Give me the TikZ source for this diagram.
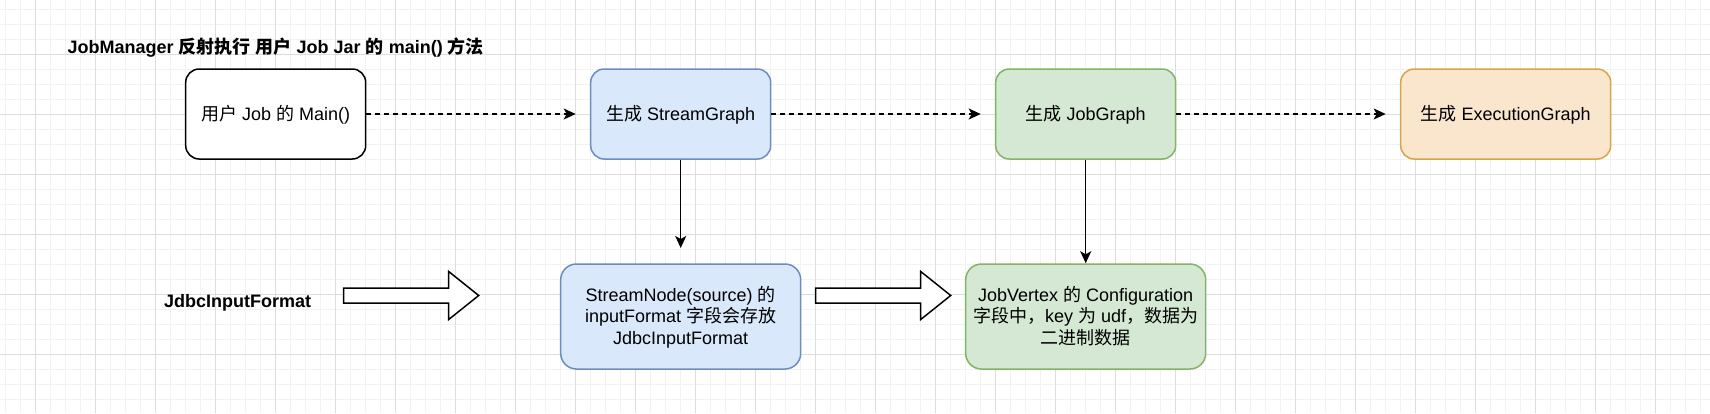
\documentclass[tikz,border=0pt]{standalone}
\usepackage{fontspec}
\setmainfont{Liberation Sans}
\newfontfamily\cjk{Noto Sans CJK SC}
\usetikzlibrary{arrows.meta}
\newcommand\C[1]{{\cjk #1}}
\newcommand\sT{\rule{0pt}{16.3pt}}
\newcommand\sB{\rule[-3.8pt]{0pt}{3.8pt}}
\definecolor{bluef}{HTML}{DAE8FC}
\definecolor{blued}{HTML}{6C8EBF}
\definecolor{greenf}{HTML}{D5E8D4}
\definecolor{greend}{HTML}{82B366}
\definecolor{orangef}{HTML}{FAE6CD}
\definecolor{oranged}{HTML}{D6A74A}
\definecolor{gridminor}{HTML}{F2F2F2}
\definecolor{gridmajor}{HTML}{DDDDDD}
\tikzset{
  boxbase/.style={draw, line width=1.5pt, inner sep=0pt, align=center,
    font=\fontsize{18pt}{21.7pt}\selectfont},
  smallbox/.style={boxbase, minimum width=180pt, minimum height=90pt, rounded corners=13.5pt},
  bigbox/.style={boxbase, minimum width=240pt, minimum height=105pt, rounded corners=15.75pt},
  plainbox/.style={fill=white, draw=black},
  bluebox/.style={fill=bluef, draw=blued},
  greenbox/.style={fill=greenf, draw=greend},
  orangebox/.style={fill=orangef, draw=oranged},
  dashconn/.style={line width=1.5pt, dash pattern=on 4.5pt off 4.5pt,
    -{Stealth[length=12pt,width=11pt,inset=3pt]}},
  solidconn/.style={line width=1.5pt, -{Stealth[length=12pt,width=11pt,inset=3pt]}},
  hollow/.style={draw=black, fill=white, line width=1.5pt, line join=miter},
  boldlabel/.style={inner sep=0pt, font=\fontsize{18pt}{21.7pt}\selectfont\bfseries},
}
\begin{document}
\begin{tikzpicture}[x=1pt,y=-1pt]
\useasboundingbox (0,0) rectangle (1710,413);
\fill[white] (0,0) rectangle (1710,413);
% grid
\foreach \i in {0,...,114} {\draw[gridminor, line width=1pt] ({5.7+15*\i},0) -- ++(0,413);}
\foreach \j in {0,...,27} {\draw[gridminor, line width=1pt] (0,{9+15*\j}) -- ++(1710,0);}
\foreach \i in {0,...,28} {\draw[gridmajor, line width=1pt] ({35.7+60*\i},0) -- ++(0,413);}
\foreach \j in {0,...,6} {\draw[gridmajor, line width=1pt] (0,{-6+60*\j}) -- ++(1710,0);}

% title
\node[boldlabel, anchor=base west] (title) at (67.5,53.5)
  {JobManager \C{反射执行} \C{用户} Job Jar \C{的} main() \C{方法}};
\node[boldlabel, anchor=base west] (jdbc) at (164,307.5) {JdbcInputFormat};

% boxes
\node[smallbox, plainbox] (b1) at (275.7,114) {\sT\C{用户} Job \C{的} Main()\sB};
\node[smallbox, bluebox] (b2) at (680.7,114) {\sT\C{生成} StreamGraph\sB};
\node[smallbox, greenbox] (b3) at (1085.7,114) {\sT\C{生成} JobGraph\sB};
\node[boxbase, minimum width=210pt, minimum height=90pt, rounded corners=13.5pt, orangebox] (b4) at (1505.7,114) {\sT\C{生成} ExecutionGraph\sB};
\node[bigbox, bluebox] (b5) at (680.7,316.5)
  {\sT StreamNode(source) \C{的}\\inputFormat \C{字段会存放}\\JdbcInputFormat\sB};
\node[bigbox, greenbox] (b6) at (1085.7,316.5)
  {\sT JobVertex \C{的} Configuration\\\C{字段中，}key \C{为} udf\C{，数据为}\\\C{二进制数据}\sB};

% connectors
\coordinate (e1) at (575.7,114);
\coordinate (e2) at (980.7,114);
\coordinate (e3) at (1385.7,114);
\coordinate (e4) at (680.7,248);
\draw[dashconn] (b1.east) -- (e1);
\draw[dashconn] (b2.east) -- (e2);
\draw[dashconn] (b3.east) -- (e3);
\draw[solidconn] (b2.south) -- (e4);
\draw[solidconn] (b3.south) -- (b6.north);

% hollow block arrows
\draw[hollow] (343.7,288) -- (448.7,288) -- (448.7,271.5) -- (478.7,295.5)
  -- (448.7,319.5) -- (448.7,303) -- (343.7,303) -- cycle;
\draw[hollow] (815.7,288) -- (920.7,288) -- (920.7,271.5) -- (950.7,295.5)
  -- (920.7,319.5) -- (920.7,303) -- (815.7,303) -- cycle;
\end{tikzpicture}
\end{document}
